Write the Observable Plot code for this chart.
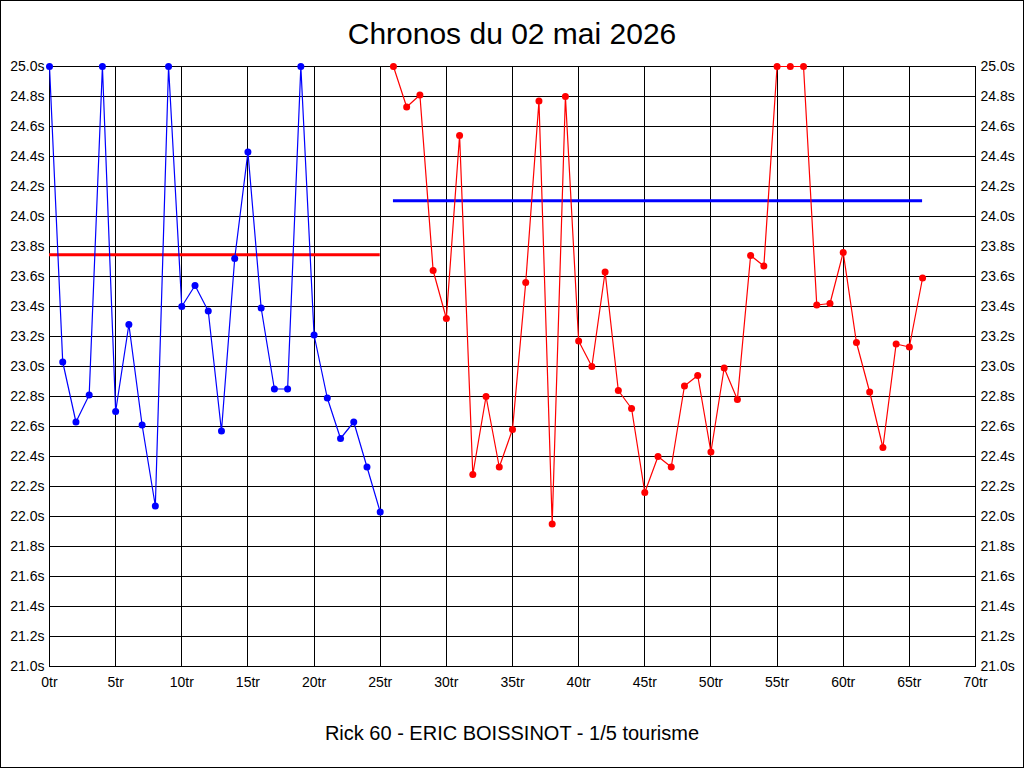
<!DOCTYPE html>
<html>
<head>
<meta charset="utf-8">
<script src="https://cdn.jsdelivr.net/npm/d3@7"></script>
<script src="https://cdn.jsdelivr.net/npm/@observablehq/plot@0.6"></script>
<style>
  html, body { margin: 0; padding: 0; background: white; }
  #wrap { position: relative; width: 1024px; height: 768px; overflow: hidden; background: white; }
  #border { position: absolute; left: 0; top: 0; width: 1024px; height: 768px; box-sizing: border-box; border: 1px solid black; pointer-events: none; }
  #title { position: absolute; left: 0; width: 1024px; top: 15px; text-align: center; font-family: "Liberation Sans", Arial, sans-serif; font-size: 30px; line-height: 38px; color: black; }
  #footer { position: absolute; left: 0; width: 1024px; top: 720px; text-align: center; font-family: "Liberation Sans", Arial, sans-serif; font-size: 20px; line-height: 26px; color: black; }
  #chart { position: absolute; left: 0; top: 0; }
</style>
</head>
<body>
<div id="wrap">
  <div id="chart"></div>
  <div id="title">Chronos du 02 mai 2026</div>
  <div id="footer">Rick 60 - ERIC BOISSINOT - 1/5 tourisme</div>
  <div id="border"></div>
</div>
<script>
// Lap numbers and times (seconds)
const blueLaps = [0,1,2,3,4,5,6,7,8,9,10,11,12,13,14,15,16,17,18,19,20,21,22,23,24,25];
const blueTimes = [25.0,23.03,22.63,22.81,25.0,22.70,23.28,22.61,22.07,25.0,23.40,23.54,23.37,22.57,23.72,24.43,23.39,22.85,22.85,25.0,23.21,22.79,22.52,22.63,22.33,22.03];

const redLaps = [26,27,28,29,30,31,32,33,34,35,36,37,38,39,40,41,42,43,44,45,46,47,48,49,50,51,52,53,54,55,56,57,58,59,60,61,62,63,64,65,66];
const redTimes = [25.0,24.73,24.81,23.64,23.32,24.54,22.28,22.80,22.33,22.58,23.56,24.77,21.95,24.80,23.17,23.00,23.63,22.84,22.72,22.16,22.40,22.33,22.87,22.94,22.43,22.99,22.78,23.74,23.67,25.0,25.0,25.0,23.41,23.42,23.76,23.16,22.83,22.46,23.15,23.13,23.59];

// Reference lines: value, first lap, last lap
const redRefValue = 23.745, redRefFrom = 0, redRefTo = 25;
const blueRefValue = 24.105, blueRefFrom = 26, blueRefTo = 66;

// Axis ticks
const xTicks = [0,5,10,15,20,25,30,35,40,45,50,55,60,65,70];
const yTicks = [21.0,21.2,21.4,21.6,21.8,22.0,22.2,22.4,22.6,22.8,23.0,23.2,23.4,23.6,23.8,24.0,24.2,24.4,24.6,24.8,25.0];

const blueData = blueLaps.map((l, i) => ({lap: l, t: blueTimes[i]}));
const redData = redLaps.map((l, i) => ({lap: l, t: redTimes[i]}));
const refs = [
  {v: redRefValue, a: redRefFrom, b: redRefTo, c: "#ff0000"},
  {v: blueRefValue, a: blueRefFrom, b: blueRefTo, c: "#0000ff"}
];

const chart = Plot.plot({
  width: 1024,
  height: 768,
  marginTop: 66,
  marginBottom: 102,
  marginLeft: 49,
  marginRight: 49,
  style: {fontFamily: "'Liberation Sans', Arial, sans-serif", fontSize: "14px", background: "transparent", color: "black"},
  x: {domain: [0, 70], label: null},
  y: {domain: [21, 25], label: null},
  marks: [
    Plot.gridX(xTicks, {stroke: "black", strokeOpacity: 1, strokeWidth: 1, shapeRendering: "crispEdges"}),
    Plot.gridY(yTicks, {stroke: "black", strokeOpacity: 1, strokeWidth: 1, shapeRendering: "crispEdges"}),
    Plot.frame({stroke: "black", shapeRendering: "crispEdges"}),
    Plot.axisX(xTicks, {tickSize: 0, tickPadding: 11, tickFormat: d => d + "tr", fontSize: 14, label: null}),
    Plot.axisY(yTicks, {anchor: "left", tickSize: 0, tickPadding: 5, tickFormat: d => d.toFixed(1) + "s", fontSize: 14, label: null}),
    Plot.axisY(yTicks, {anchor: "right", tickSize: 0, tickPadding: 5, tickFormat: d => d.toFixed(1) + "s", fontSize: 14, label: null}),
    Plot.ruleY(refs, {y: "v", x1: "a", x2: "b", stroke: "c", strokeWidth: 3}),
    Plot.line(blueData, {x: "lap", y: "t", stroke: "#0000ff", strokeWidth: 1.2}),
    Plot.dot(blueData, {x: "lap", y: "t", r: 3.5, fill: "#0000ff", stroke: "none"}),
    Plot.line(redData, {x: "lap", y: "t", stroke: "#ff0000", strokeWidth: 1.2}),
    Plot.dot(redData, {x: "lap", y: "t", r: 3.5, fill: "#ff0000", stroke: "none"})
  ]
});
document.getElementById("chart").appendChild(chart);
</script>
</body>
</html>
